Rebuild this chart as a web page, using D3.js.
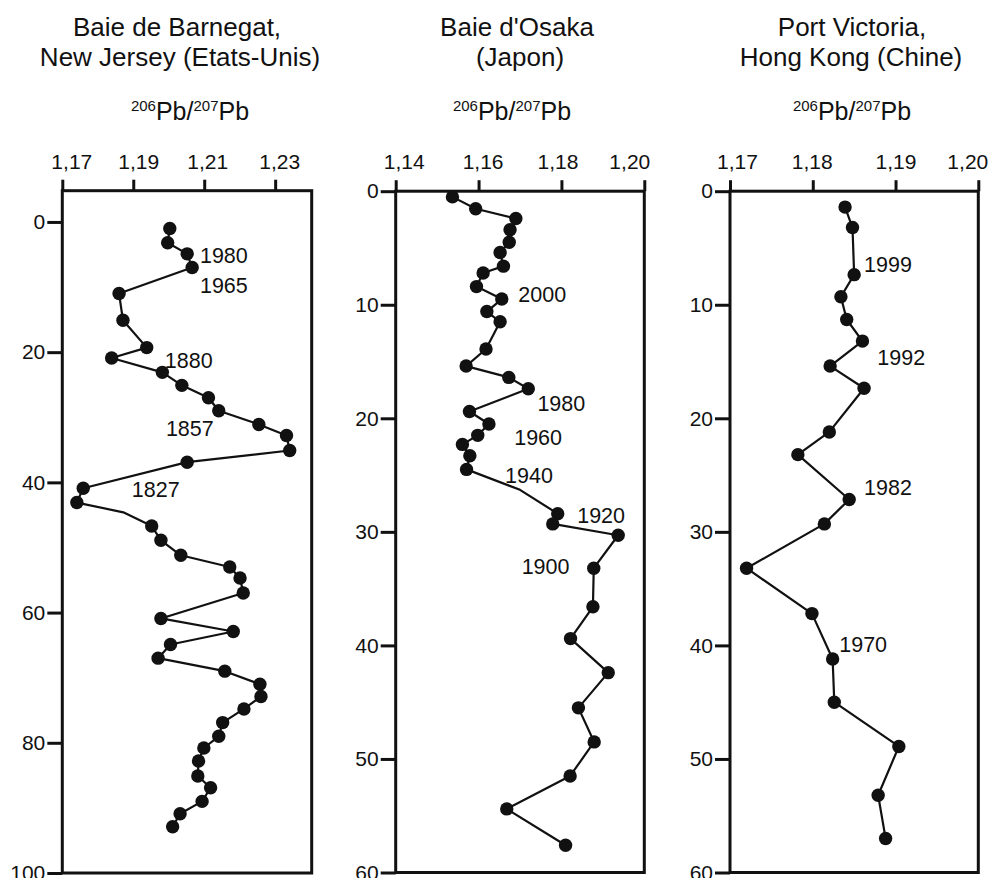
<!DOCTYPE html>
<html>
<head>
<meta charset="utf-8">
<script src="https://cdn.jsdelivr.net/npm/d3@7"></script>
<style>
  html, body { margin: 0; padding: 0; background: #fff; }
  svg { display: block; font-family: "Liberation Sans", Arial, Helvetica, sans-serif; }
</style>
</head>
<body>
<svg id="chart" width="995" height="878"></svg>
<script>
// ---------- DATA ----------
// Panel 1 : Baie de Barnegat, New Jersey (Etats-Unis)
const barnegatDepth = [1, 3.2, 4.9, 7.0, 11.0, 15.1, 19.3, 20.9, 23.1, 25.1, 27.0, 29.0, 31.1, 32.8, 35.1, 36.9,
  40.9, 43.1, 44.6, 46.7, 48.9, 51.2, 53.0, 54.7, 57.0, 60.9, 62.9, 64.9, 67.0, 69.0, 71.0, 72.9, 74.8, 76.9,
  79.0, 80.8, 82.8, 85.1, 86.9, 89.0, 90.9, 92.9];
const barnegatRatio = [1.2003, 1.1997, 1.2052, 1.2066, 1.1860, 1.1871, 1.1938, 1.1839, 1.1982, 1.2037, 1.2112,
  1.2141, 1.2254, 1.2332, 1.2341, 1.2052, 1.1759, 1.1741, 1.1872, 1.1952, 1.1978, 1.2034, 1.2172, 1.2201, 1.2210,
  1.1978, 1.2182, 1.2005, 1.1970, 1.2158, 1.2257, 1.2260, 1.2212, 1.2152, 1.2141, 1.2099, 1.2084, 1.2082, 1.2118,
  1.2094, 1.2032, 1.2011];
const barnegatBends = [18];   // line vertices drawn without a dot
const barnegatYears = ["1980", "1965", "1880", "1857", "1827"];
const barnegatYearRatio = [1.2088, 1.2088, 1.1989, 1.1992, 1.1896];
const barnegatYearDepth = [5.1, 9.7, 21.3, 31.7, 41.0];
const barnegatXTicks = [1.17, 1.19, 1.21, 1.23];
const barnegatYTicks = [0, 20, 40, 60, 80, 100];

// Panel 2 : Baie d'Osaka (Japon)
const osakaDepth = [0.5, 1.55, 2.4, 3.4, 4.5, 5.4, 6.6, 7.2, 8.4, 9.5, 10.6, 11.5, 13.9, 15.4, 16.4, 17.4, 19.4,
  20.5, 21.5, 22.3, 23.3, 24.5, 26.3, 28.4, 29.3, 30.3, 33.2, 36.6, 39.4, 42.4, 45.5, 48.5, 51.5, 54.4, 57.6];
const osakaRatio = [1.1537, 1.1593, 1.1690, 1.1676, 1.1674, 1.1652, 1.1660, 1.1611, 1.1595, 1.1656, 1.1620,
  1.1652, 1.1618, 1.1570, 1.1673, 1.1720, 1.1578, 1.1625, 1.1598, 1.1561, 1.1579, 1.1571, 1.1700, 1.1791, 1.1779,
  1.1937, 1.1878, 1.1876, 1.1822, 1.1913, 1.1841, 1.1879, 1.1821, 1.1668, 1.1810];
const osakaBends = [22];
const osakaYears = ["2000", "1980", "1960", "1940", "1920", "1900"];
const osakaYearRatio = [1.1696, 1.1742, 1.1686, 1.1664, 1.1838, 1.1704];
const osakaYearDepth = [9.1, 18.7, 21.7, 25.0, 28.5, 33.0];
const osakaXTicks = [1.14, 1.16, 1.18, 1.20];
const osakaYTicks = [0, 10, 20, 30, 40, 50, 60];

// Panel 3 : Port Victoria, Hong Kong (Chine)
const victoriaDepth = [1.4, 3.2, 7.35, 9.3, 11.3, 13.2, 15.4, 17.35, 21.2, 23.2, 27.15, 29.3, 33.2, 37.2, 41.2,
  45.0, 48.9, 53.2, 57.0];
const victoriaRatio = [1.1839, 1.1848, 1.1850, 1.1834, 1.1841, 1.1860, 1.1821, 1.1862, 1.1820, 1.1782, 1.1844,
  1.1814, 1.1720, 1.1799, 1.1824, 1.1826, 1.1904, 1.1879, 1.1888];
const victoriaBends = [];
const victoriaYears = ["1999", "1992", "1982", "1970"];
const victoriaYearRatio = [1.1862, 1.1878, 1.1862, 1.1832];
const victoriaYearDepth = [6.4, 14.6, 26.1, 39.9];
const victoriaXTicks = [1.17, 1.18, 1.19, 1.20];
const victoriaYTicks = [0, 10, 20, 30, 40, 50, 60];

const titles = [
  ["Baie de Barnegat,", "New Jersey (Etats-Unis)"],
  ["Baie d'Osaka", "(Japon)"],
  ["Port Victoria,", "Hong Kong (Chine)"]
];

// ---------- LAYOUT ----------
const panels = [
  { depth: barnegatDepth, ratio: barnegatRatio, bends: barnegatBends, years: barnegatYears,
    yr: barnegatYearRatio, yd: barnegatYearDepth, xt: barnegatXTicks, yt: barnegatYTicks,
    xDom: [1.17, 1.2403], yDom: [-4.8, 100], left: 62.3, right: 311.7, top: 190.7, bottom: 873,
    t1: 177, t2: 180, ax: 190, labelDx: [9, 5, 3, 4] },
  { depth: osakaDepth, ratio: osakaRatio, bends: osakaBends, years: osakaYears,
    yr: osakaYearRatio, yd: osakaYearDepth, xt: osakaXTicks, yt: osakaYTicks,
    xDom: [1.14, 1.20], yDom: [0, 60], left: 395.7, right: 644.3, top: 191.2, bottom: 872.5,
    t1: 517, t2: 520, ax: 512, labelDx: [8, 4, -4, -15] },
  { depth: victoriaDepth, ratio: victoriaRatio, bends: victoriaBends, years: victoriaYears,
    yr: victoriaYearRatio, yd: victoriaYearDepth, xt: victoriaXTicks, yt: victoriaYTicks,
    xDom: [1.17, 1.20], yDom: [0, 60], left: 730, right: 978.3, top: 191.2, bottom: 872.5,
    t1: 852, t2: 851, ax: 852, labelDx: [7, -1, 0, -11] }
];
panels.forEach((p, i) => p.title = titles[i]);

const svg = d3.select("#chart");
const fmt = d => d.toFixed(2).replace(".", ",");

panels.forEach(p => {
  const x = d3.scaleLinear().domain(p.xDom).range([p.left, p.right]);
  const y = d3.scaleLinear().domain(p.yDom).range([p.top, p.bottom]);
  const g = svg.append("g");

  // titles
  g.append("text").attr("x", p.t1).attr("y", 36).attr("text-anchor", "middle")
    .attr("font-size", 26).attr("fill", "#111").text(p.title[0]);
  g.append("text").attr("x", p.t2).attr("y", 66).attr("text-anchor", "middle")
    .attr("font-size", 26).attr("fill", "#111").text(p.title[1]);

  // axis title 206Pb/207Pb
  const at = g.append("text").attr("x", p.ax).attr("y", 120).attr("text-anchor", "middle")
    .attr("fill", "#111").attr("font-size", 25);
  at.append("tspan").attr("font-size", 15).attr("dy", -9).text("206");
  at.append("tspan").attr("dy", 9).text("Pb/");
  at.append("tspan").attr("font-size", 15).attr("dy", -9).text("207");
  at.append("tspan").attr("dy", 9).text("Pb");

  // frame
  g.append("rect").attr("x", p.left).attr("y", p.top)
    .attr("width", p.right - p.left).attr("height", p.bottom - p.top)
    .attr("fill", "none").attr("stroke", "#111").attr("stroke-width", 3);

  // top axis
  const xa = g.append("g").attr("transform", `translate(0,${p.top})`)
    .call(d3.axisTop(x).tickValues(p.xt).tickFormat(fmt).tickSize(11).tickSizeOuter(0).tickPadding(11));
  xa.selectAll(".tick text").attr("dx", (d, i) => p.labelDx[i]);
  // left axis
  const ya = g.append("g").attr("transform", `translate(${p.left},0)`)
    .call(d3.axisLeft(y).tickValues(p.yt).tickSize(15).tickSizeOuter(0).tickPadding(2));
  [xa, ya].forEach(a => {
    a.select(".domain").remove();
    a.selectAll(".tick line").attr("stroke", "#111").attr("stroke-width", 3);
    a.selectAll(".tick text").attr("font-size", 21).attr("fill", "#111")
      .attr("font-family", "'Liberation Sans', Arial, sans-serif");
  });

  // data line
  const pts = p.depth.map((d, i) => ({ d, v: p.ratio[i], bend: p.bends.includes(i) }));
  const line = d3.line().x(q => x(q.v)).y(q => y(q.d));
  g.append("path").datum(pts).attr("d", line)
    .attr("fill", "none").attr("stroke", "#111").attr("stroke-width", 2.2).attr("stroke-linejoin", "round");

  g.selectAll("circle.pt").data(pts.filter(q => !q.bend)).join("circle")
    .attr("class", "pt").attr("cx", q => x(q.v)).attr("cy", q => y(q.d)).attr("r", 6.7)
    .attr("fill", "#111");

  // year labels
  g.selectAll("text.yr").data(p.years).join("text").attr("class", "yr")
    .attr("x", (t, i) => x(p.yr[i])).attr("y", (t, i) => y(p.yd[i]))
    .attr("dy", "0.36em").attr("font-size", 21.5).attr("fill", "#111").text(t => t);
});
</script>
</body>
</html>
